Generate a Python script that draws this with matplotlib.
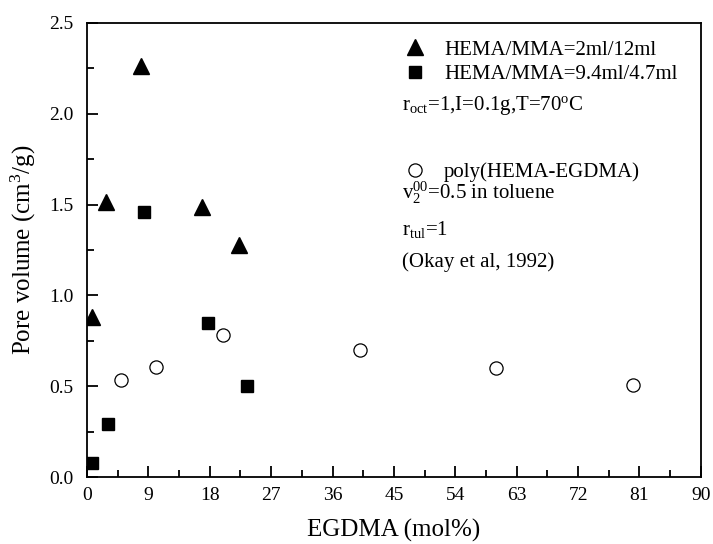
import matplotlib
matplotlib.use('Agg')
import matplotlib.pyplot as plt
from matplotlib.ticker import MultipleLocator

plt.rcParams['font.family'] = ['Liberation Serif', 'DejaVu Serif']
plt.rcParams['mathtext.fontset'] = 'custom'
plt.rcParams['mathtext.rm'] = 'Liberation Serif'
plt.rcParams['mathtext.it'] = 'Liberation Serif:italic'

# HEMA/MMA = 2ml/12ml
tri_x = [0.7, 2.8, 7.9, 16.8, 22.3]
tri_y = [0.88, 1.515, 2.26, 1.485, 1.275]

# HEMA/MMA = 9.4ml/4.7ml
sq_x = [0.7, 3.1, 8.4, 17.8, 23.5]
sq_y = [0.08, 0.29, 1.46, 0.85, 0.50]

# poly(HEMA-EGDMA), Okay et al 1992
circ_x = [5.0, 10.1, 20.0, 40.0, 60.0, 80.0]
circ_y = [0.535, 0.605, 0.78, 0.70, 0.60, 0.505]

fig = plt.figure(figsize=(7.13, 5.44), dpi=100)
ax = fig.add_axes([0.122, 0.123, 0.861, 0.835])

l1, = ax.plot(tri_x, tri_y, '^', color='black', ms=11, ls='none')
l2, = ax.plot(sq_x, sq_y, 's', color='black', ms=8.5, ls='none')
l3, = ax.plot(circ_x, circ_y, 'o', mfc='white', mec='black', mew=0.9, ms=9.5, ls='none')

ax.set_xlim(0, 90)
ax.set_ylim(0, 2.5)
ax.xaxis.set_major_locator(MultipleLocator(9))
ax.xaxis.set_minor_locator(MultipleLocator(4.5))
ax.yaxis.set_major_locator(MultipleLocator(0.5))
ax.yaxis.set_minor_locator(MultipleLocator(0.25))
ax.yaxis.set_major_formatter(plt.FormatStrFormatter('%.1f'))
ax.tick_params(which='both', direction='in', top=False, right=False, width=1.3, labelsize=14)
ax.tick_params(which='major', length=8)
ax.tick_params(which='minor', length=5)
ax.tick_params(axis='x', pad=7)
ax.tick_params(axis='y', pad=10)
for s in ax.spines.values():
    s.set_linewidth(1.3)

ax.set_xlabel('EGDMA (mol%)', fontsize=18, labelpad=11)
ax.set_ylabel('Pore volume (cm$^3$/g)', fontsize=18, labelpad=8)

leg1 = ax.legend([l1, l2], ['HEMA/MMA=2ml/12ml', 'HEMA/MMA=9.4ml/4.7ml'],
                 loc='upper left', bbox_to_anchor=(0.5, 0.985), frameon=False,
                 fontsize=15, handlelength=1.0, handletextpad=0.9,
                 labelspacing=0.25, borderpad=0)
ax.add_artist(leg1)
ax.legend([l3], ['poly(HEMA-EGDMA)'], loc='upper left', bbox_to_anchor=(0.5, 0.715),
          frameon=False, fontsize=15, handlelength=1.0, handletextpad=0.9, borderpad=0)

ax.text(0.513, 0.819, r'r$_{\rm oct}$=1,I=0.1g,T=70$^{\rm o}$C', transform=ax.transAxes,
        fontsize=15, va='center', ha='left')
ax.text(0.513, 0.626, r'v$_{2}^{00}$=0.5 in toluene', transform=ax.transAxes,
        fontsize=15, va='center', ha='left')
ax.text(0.513, 0.546, r'r$_{\rm tul}$=1', transform=ax.transAxes,
        fontsize=15, va='center', ha='left')
ax.text(0.513, 0.474, '(Okay et al, 1992)', transform=ax.transAxes,
        fontsize=15, va='center', ha='left')

fig.savefig('out.png', dpi=100)
